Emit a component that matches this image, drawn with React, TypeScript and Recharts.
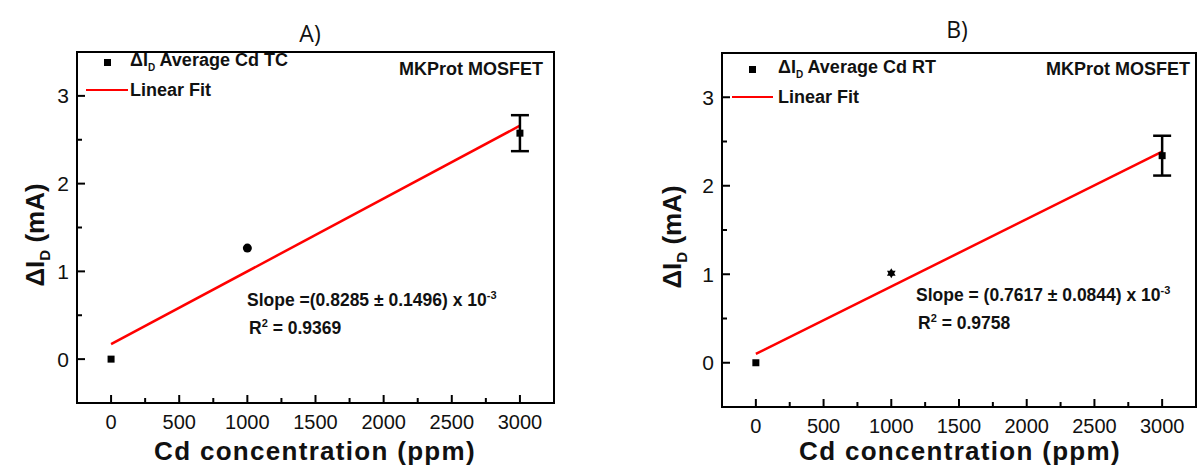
import React from "react"
import {
  ComposedChart,
  Scatter,
  Line,
  XAxis,
  YAxis,
  ErrorBar,
  ReferenceArea,
  Legend,
} from "recharts"

// x tick positions (ppm) and y tick positions (mA)
const xTicks = [0, 250, 500, 750, 1000, 1250, 1500, 1750, 2000, 2250, 2500, 2750, 3000]
const yTicks = [0, 0.5, 1, 1.5, 2, 2.5, 3]

// panel A: thermal cycled
const concA = [0, 1000, 3000]
const deltaA = [0, 1.265, 2.575]
const errA = [0, 0, 0.205]
const markerA = ["square", "dot", "square"]
const fitXA = [0, 3000]
const fitYA = [0.17, 2.66]

// panel B: room temperature
const concB = [0, 1000, 3000]
const deltaB = [0, 1.01, 2.34]
const errB = [0, 0, 0.225]
const markerB = ["square", "star", "square"]
const fitXB = [0, 3000]
const fitYB = [0.1, 2.385]

const titles = ["A)", "B)"]
const seriesNames = ["Average Cd TC", "Average Cd RT"]
const slopes = ["(0.8285 ± 0.1496)", "(0.7617 ± 0.0844)"]
const r2s = ["0.9369", "0.9758"]

const boldFont = "'Liberation Sans', Arial, sans-serif"
const tickFont = "'Liberation Sans', Arial, sans-serif"
const titleFont = "'Open Sans', sans-serif"

const renderXTick = (props: any) => {
  const { x, y, payload } = props
  const major = payload.value % 500 === 0
  return (
    <g key={`xt-${payload.value}`}>
      <line x1={x} y1={y} x2={x} y2={y - (major ? 8 : 5)} stroke="#000" strokeWidth={2} />
      {major && (
        <text x={x} y={y + 26} textAnchor="middle" fontFamily={tickFont} fontSize={20} fill="#111">
          {payload.value}
        </text>
      )}
    </g>
  )
}

const renderYTick = (props: any) => {
  const { x, y, payload } = props
  const major = Number.isInteger(payload.value)
  return (
    <g key={`yt-${payload.value}`}>
      <line x1={x} y1={y} x2={x + (major ? 8 : 5)} y2={y} stroke="#000" strokeWidth={2} />
      {major && (
        <text x={x - 8} y={y + 7.5} textAnchor="end" fontFamily={tickFont} fontSize={21} fill="#111">
          {payload.value}
        </text>
      )}
    </g>
  )
}

const Marker = (props: any) => {
  const { cx, cy, payload } = props
  if (cx == null || cy == null) return null
  if (payload.marker === "dot") return <circle cx={cx} cy={cy} r={4.5} fill="#000" />
  if (payload.marker === "star") {
    const r = 5
    const tri = (rot: number) =>
      [0, 1, 2]
        .map((k) => {
          const a = rot + (k * 2 * Math.PI) / 3
          return `${cx + r * Math.sin(a)},${cy - r * Math.cos(a)}`
        })
        .join(" ")
    return (
      <g fill="#000">
        <polygon points={tri(0)} />
        <polygon points={tri(Math.PI)} />
      </g>
    )
  }
  return <rect x={cx - 3.5} y={cy - 3.5} width={7} height={7} fill="#000" />
}

type Layout = {
  left: number
  width: number
  margin: { top: number; right: number; bottom: number; left: number }
  title: [number, number]
  sq: [number, number]
  legText: number
  fitLine: [number, number, number]
  mk: [number, number]
  slope: [number, number]
  r2: [number, number]
  yLab: [number, number]
  xLab: [number, number]
}

// margins exclude the 1px axis width/height
const layouts: Layout[] = [
  {
    left: 0,
    width: 600,
    margin: { top: 52, right: 46, bottom: 61, left: 76 },
    title: [310, 33],
    sq: [107, 62],
    legText: 130,
    fitLine: [86, 128, 90],
    mk: [543, 69],
    slope: [247, 300],
    r2: [249, 328],
    yLab: [37, 235],
    xLab: [315, 451],
  },
  {
    left: 600,
    width: 598,
    margin: { top: 53, right: 2, bottom: 57, left: 121 },
    title: [357, 29],
    sq: [152, 69],
    legText: 178,
    fitLine: [132, 173, 97],
    mk: [590, 69],
    slope: [316, 295],
    r2: [318, 323],
    yLab: [74, 237],
    xLab: [360, 451],
  },
]

const abs = (x: number, y: number, extra: React.CSSProperties = {}): React.CSSProperties => ({
  position: "absolute",
  left: x,
  top: y,
  transform: "translateY(-50%)",
  whiteSpace: "nowrap",
  lineHeight: 1,
  ...extra,
})

function Panel({ idx }: { idx: number }) {
  const L = layouts[idx]
  const conc = idx === 0 ? concA : concB
  const delta = idx === 0 ? deltaA : deltaB
  const err = idx === 0 ? errA : errB
  const marker = idx === 0 ? markerA : markerB
  const fitX = idx === 0 ? fitXA : fitXB
  const fitY = idx === 0 ? fitYA : fitYB

  const points = conc.map((c, i) => ({ x: c, y: delta[i], err: err[i], marker: marker[i] }))
  const fit = fitX.map((c, i) => ({ x: c, y: fitY[i] }))
  const bold: React.CSSProperties = { fontFamily: boldFont, fontWeight: 700, color: "#111" }

  const legendContent = () => (
    <div style={{ position: "relative", width: 0, height: 0 }}>
      <div style={{ position: "absolute", left: L.sq[0] - 3.5, top: L.sq[1] - 3.5, width: 7, height: 7, background: "#000" }} />
      <div style={abs(L.legText, L.sq[1], { ...bold, fontSize: 18 })}>
        ΔI<sub style={{ fontSize: 10 }}>D</sub> {seriesNames[idx]}
      </div>
      <div style={{ position: "absolute", left: L.fitLine[0], top: L.fitLine[2] - 1.25, width: L.fitLine[1] - L.fitLine[0], height: 2.5, background: "#ff0000" }} />
      <div style={abs(L.legText, L.fitLine[2], { ...bold, fontSize: 18 })}>Linear Fit</div>
    </div>
  )

  return (
    <div style={{ position: "absolute", left: L.left, top: 0, width: L.width, height: 465 }}>
      <ComposedChart width={L.width} height={465} margin={L.margin}>
        <XAxis
          dataKey="x"
          type="number"
          domain={[-250, 3250]}
          ticks={xTicks}
          allowDataOverflow
          height={1}
          axisLine={false}
          tickLine={false}
          tickSize={0}
          tickMargin={0}
          interval={0}
          tick={renderXTick}
        />
        <YAxis
          dataKey="y"
          type="number"
          domain={[-0.5, 3.5]}
          ticks={yTicks}
          allowDataOverflow
          width={1}
          axisLine={false}
          tickLine={false}
          tickSize={0}
          tickMargin={0}
          interval={0}
          tick={renderYTick}
        />
        <ReferenceArea x1={-250} x2={3250} y1={-0.5} y2={3.5} fill="none" stroke="#000" strokeWidth={2} />
        <Legend layout="vertical" align="center" verticalAlign="middle" wrapperStyle={{ left: 0, top: 0, width: 0, height: 0 }} content={legendContent} />
        <Line
          data={fit}
          dataKey="y"
          name="Linear Fit"
          stroke="#ff0000"
          strokeWidth={2.5}
          dot={false}
          activeDot={false}
          isAnimationActive={false}
        />
        <Scatter data={points} dataKey="y" name={seriesNames[idx]} fill="#000" shape={Marker} isAnimationActive={false}>
          <ErrorBar dataKey="err" direction="y" width={9} stroke="#000" strokeWidth={2.5} />
        </Scatter>
      </ComposedChart>

      <div style={{ position: "absolute", left: L.title[0], top: L.title[1], transform: "translate(-50%, -50%)", fontFamily: titleFont, fontSize: 23, color: "#111", lineHeight: 1 }}>
        {titles[idx]}
      </div>
      <div style={abs(L.mk[0], L.mk[1], { ...bold, fontSize: 18, transform: "translate(-100%, -50%)" })}>MKProt MOSFET</div>
      <div style={abs(L.slope[0], L.slope[1], { ...bold, fontSize: 17.5 })}>
        Slope {idx === 0 ? "=" : "= "}
        {slopes[idx]} x 10<sup style={{ fontSize: 11 }}>-3</sup>
      </div>
      <div style={abs(L.r2[0], L.r2[1], { ...bold, fontSize: 17.5 })}>
        R<sup style={{ fontSize: 11 }}>2</sup> = {r2s[idx]}
      </div>
      <div
        style={{
          position: "absolute",
          left: L.yLab[0],
          top: L.yLab[1],
          transform: "translate(-50%, -50%) rotate(-90deg)",
          ...bold,
          fontSize: 26,
          whiteSpace: "nowrap",
          lineHeight: 1,
        }}
      >
        ΔI<sub style={{ fontSize: 15 }}>D</sub> (mA)
      </div>
      <div
        style={{
          position: "absolute",
          left: L.xLab[0],
          top: L.xLab[1],
          transform: "translate(-50%, -50%)",
          ...bold,
          fontSize: 26,
          letterSpacing: 1.3,
          whiteSpace: "nowrap",
          lineHeight: 1,
        }}
      >
        Cd concentration (ppm)
      </div>
    </div>
  )
}

export default function App() {
  return (
    <div style={{ position: "absolute", left: 0, top: 0, width: 1198, height: 465, background: "#fff", overflow: "hidden" }}>
      <Panel idx={0} />
      <Panel idx={1} />
    </div>
  )
}
